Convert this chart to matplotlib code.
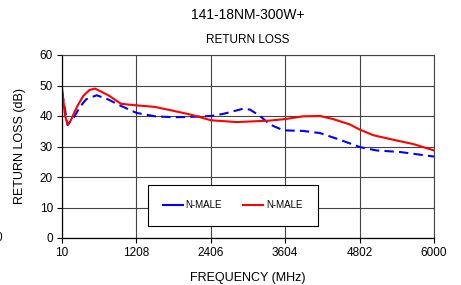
import matplotlib
matplotlib.use("Agg")
import matplotlib.pyplot as plt
from matplotlib.lines import Line2D

# data
freq_blue = [10, 100, 200, 300, 400, 569, 756, 971, 1213, 1508, 1797, 2071, 2409,
             2607, 2929, 3037, 3198, 3359, 3573, 3895, 4164, 4486, 4808, 5077, 5452, 6000]
rl_blue = [48.0, 37.0, 39.5, 43.0, 45.5, 46.8, 45.4, 43.2, 41.0, 39.9, 39.6, 39.7, 40.0,
           40.7, 42.4, 42.1, 40.0, 37.2, 35.3, 35.1, 34.4, 32.2, 29.8, 28.7, 28.2, 26.7]

freq_red = [10, 60, 100, 150, 250, 350, 450, 540, 756, 960, 1200, 1500, 1780, 2071,
            2409, 2823, 3359, 3606, 3895, 4164, 4374, 4648, 4808, 5022, 5345, 5667, 6000]
rl_red = [49.2, 40.0, 37.2, 38.5, 43.0, 46.5, 48.5, 49.0, 46.8, 44.0, 43.5, 43.0, 41.8, 40.5,
          38.6, 38.0, 38.5, 39.0, 39.9, 40.0, 39.0, 37.2, 35.5, 33.7, 32.2, 30.8, 28.7]

xticks = [10, 1208, 2406, 3604, 4802, 6000]
yticks = [0, 10, 20, 30, 40, 50, 60]
labels = ["N-MALE", "N-MALE"]

plt.rcParams['font.family'] = ['Liberation Sans', 'DejaVu Sans']

fig = plt.figure(figsize=(4.61, 2.85), dpi=100)
ax = fig.add_axes([62 / 461, 47 / 285, 372 / 461, 183 / 285])

ax.plot(freq_blue, rl_blue, color='#0000FF', lw=1.5, linestyle=(0, (4.5, 2.5)))
ax.plot(freq_red, rl_red, color='#FF0000', lw=1.5)

ax.set_xlim(10, 6000)
ax.set_ylim(0, 60)
ax.set_xticks(xticks)
ax.set_yticks(yticks)
ax.tick_params(labelsize=8.5, length=3.5, width=0.8, direction='out', pad=3)
ax.grid(True, color='#444444', lw=0.8)
for s in ['top', 'right']:
    ax.spines[s].set_color('#444444')
    ax.spines[s].set_linewidth(0.8)
for s in ['left', 'bottom']:
    ax.spines[s].set_color('black')
    ax.spines[s].set_linewidth(0.9)

ax.set_xlabel('FREQUENCY (MHz)', fontsize=9, labelpad=9)
ax.set_ylabel('RETURN LOSS (dB)', fontsize=9, labelpad=10)

fig.text(248 / 461, 1 - 15 / 285, '141-18NM-300W+', ha='center', va='center', fontsize=10)
fig.text(248 / 461, 1 - 40 / 285, 'RETURN LOSS', ha='center', va='center', fontsize=8.5)
fig.text(2 / 461, 1 - 238 / 285, '0', ha='right', va='center', fontsize=8.5)

handles = [Line2D([], [], color='#0000FF', lw=1.5),
           Line2D([], [], color='#FF0000', lw=1.5)]
leg = ax.legend(handles, labels, loc='center', ncol=2, fontsize=7,
                bbox_to_anchor=(0.459, 0.179), bbox_transform=ax.transAxes,
                frameon=True, fancybox=False, edgecolor='black', framealpha=1,
                borderpad=1.6, handlelength=2.0, handletextpad=0.3, columnspacing=2.2,
                borderaxespad=0)
leg.get_frame().set_linewidth(0.8)

fig.savefig('out.png', dpi=100)
